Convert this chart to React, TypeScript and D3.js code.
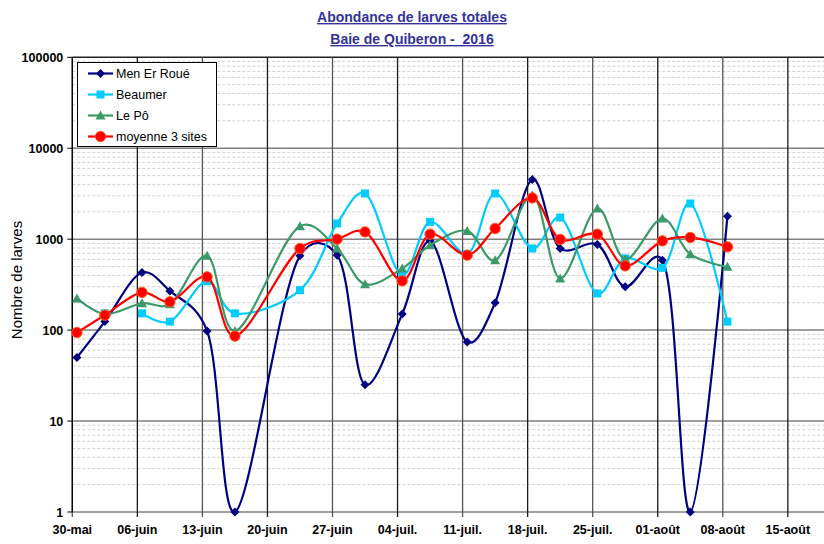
import React from "react";
import * as d3 from "d3";

const dates = ["2016-05-30","2016-06-02","2016-06-06","2016-06-09","2016-06-13","2016-06-16","2016-06-23","2016-06-27","2016-06-30","2016-07-04","2016-07-07","2016-07-11","2016-07-14","2016-07-18","2016-07-21","2016-07-25","2016-07-28","2016-08-01","2016-08-04","2016-08-08"];
const menErRoue = [50, 124, 430, 270, 98, 1, 656, 667, 25, 150, 958, 74, 200, 4530, 790, 875, 300, 588, 1, 1790];
const beaumer = [null, 153, 153, 124, 345, 153, 275, 1488, 3180, 402, 1549, 690, 3180, 790, 1731, 253, 614, 484, 2467, 124];
const lePo = [223, 150, 197, 193, 656, 98, 1389, 790, 320, 476, 859, 1234, 588, 3047, 370, 2175, 603, 1688, 684, 496];
const moyenne = [94, 146, 260, 205, 385, 86, 790, 1000, 1203, 348, 1135, 667, 1310, 2844, 993, 1135, 509, 958, 1045, 823];
// Beaumer: no line between these indices in the original
const beaumerBreakAfter = 1;

const xTickDates = ["2016-05-30","2016-06-06","2016-06-13","2016-06-20","2016-06-27","2016-07-04","2016-07-11","2016-07-18","2016-07-25","2016-08-01","2016-08-08","2016-08-15"];
const xTickLabels = ["30-mai","06-juin","13-juin","20-juin","27-juin","04-juil.","11-juil.","18-juil.","25-juil.","01-août","08-août","15-août"];
const yTicks = [1, 10, 100, 1000, 10000, 100000];
const seriesNames = ["Men Er Roué", "Beaumer", "Le Pô", "moyenne 3 sites"];
const titleLines = ["Abondance de larves totales", "Baie de Quiberon -  2016"];
const yTitle = "Nombre de larves";

const W = 824, H = 544;
const L = 72.3, T = 57.3, B = 512, R = 825;
const parse = (s: string) => new Date(s + "T00:00:00Z");

const x = d3.scaleUtc().domain([parse("2016-05-30"), parse("2016-08-19")]).range([L, R]);
const y = d3.scaleLog().domain([1, 100000]).range([B, T]);
const half = 12 * 3600 * 1000;
const px = (i: number) => x(new Date(parse(dates[i]).getTime() + half));

const colors = ["#000080", "#00CCFF", "#3C9A6A", "#FF0000"];
const FONT = "'Liberation Sans', Arial, sans-serif";

function marker(kind: number, cx: number, cy: number, key: string) {
  const c = colors[kind];
  if (kind === 0) {
    const s = 4.5;
    return <path key={key} d={`M${cx},${cy - s}L${cx + s},${cy}L${cx},${cy + s}L${cx - s},${cy}Z`} fill={c} />;
  }
  if (kind === 1) {
    return <rect key={key} x={cx - 4} y={cy - 4} width={8} height={8} fill={c} />;
  }
  if (kind === 2) {
    const s = 5;
    return <path key={key} d={`M${cx},${cy - s}L${cx + s},${cy + s * 0.8}L${cx - s},${cy + s * 0.8}Z`} fill={c} />;
  }
  return <circle key={key} cx={cx} cy={cy} r={5.2} fill={c} stroke="#FF5a1e" strokeWidth={1} />;
}

export default function App() {
  const series = [menErRoue, beaumer, lePo, moyenne];
  const line = d3
    .line<[number, number]>()
    .x((d) => d[0])
    .y((d) => d[1])
    .curve(d3.curveCatmullRom.alpha(0.25));

  const segments = (vals: (number | null)[], breakAfter: number | null) => {
    const segs: [number, number][][] = [];
    let cur: [number, number][] = [];
    vals.forEach((v, i) => {
      if (v == null || v <= 0) {
        if (cur.length) segs.push(cur);
        cur = [];
        return;
      }
      cur.push([px(i), y(v)]);
      if (breakAfter === i) {
        segs.push(cur);
        cur = [];
      }
    });
    if (cur.length) segs.push(cur);
    return segs;
  };

  const minor: number[] = [];
  for (let e = 0; e < 5; e++) for (let k = 2; k <= 9; k++) minor.push(k * Math.pow(10, e));

  return (
    <svg width={W} height={H} style={{ position: "absolute", left: 0, top: 0, background: "#fff" }}>
      <defs>
        <clipPath id="plot">
          <rect x={L} y={T} width={R - L} height={B - T} />
        </clipPath>
      </defs>
      <rect x={0} y={0} width={W} height={H} fill="#fff" />
      {/* title */}
      {titleLines.map((t, i) => (
        <text key={t} x={412} y={22 + i * 22} textAnchor="middle" fontFamily={FONT} fontWeight="bold" fontSize={14} fill="#333399" textDecoration="underline" style={{ whiteSpace: "pre" }}>
          {t}
        </text>
      ))}
      {/* minor gridlines */}
      {minor.map((v) => (
        <line key={"m" + v} x1={L} x2={R} y1={y(v)} y2={y(v)} stroke="#d0d0d0" strokeWidth={1} strokeDasharray="3,2" />
      ))}
      {/* major horizontal gridlines */}
      {yTicks.map((v) => (
        <line key={"h" + v} x1={L} x2={R} y1={y(v)} y2={y(v)} stroke={v === 100000 ? "#222" : "#808080"} strokeWidth={1.5} />
      ))}
      {/* vertical gridlines */}
      {xTickDates.map((d, i) => (
        <line key={"v" + d} x1={x(parse(d))} x2={x(parse(d))} y1={T} y2={B + 5} stroke={i % 2 ? "#1a1a1a" : "#555"} strokeWidth={1.3} />
      ))}
      {/* y axis */}
      <line x1={L} x2={L} y1={T} y2={B} stroke="#000" strokeWidth={1.3} />
      {yTicks.map((v) => (
        <g key={"yt" + v}>
          <line x1={L - 5} x2={L} y1={y(v)} y2={y(v)} stroke="#000" />
          <text x={L - 9} y={y(v) + 4.5} textAnchor="end" fontFamily={FONT} fontWeight="bold" fontSize={12.5} fill="#000">
            {v}
          </text>
        </g>
      ))}
      {xTickDates.map((d, i) => (
        <text key={"xt" + d} x={x(parse(d))} y={534} textAnchor="middle" fontFamily={FONT} fontWeight="bold" fontSize={12.5} fill="#000">
          {xTickLabels[i]}
        </text>
      ))}
      <text transform={`translate(22,280) rotate(-90)`} textAnchor="middle" fontFamily={FONT} fontSize={15} fill="#000">
        {yTitle}
      </text>
      {/* series */}
      {series.map((vals, si) => (
        <g key={"s" + si}>
          <g clipPath="url(#plot)">
            {segments(vals, si === 1 ? beaumerBreakAfter : null)
              .filter((s) => s.length > 1)
              .map((s, k) => (
                <path key={k} d={line(s) || ""} fill="none" stroke={colors[si]} strokeWidth={2.2} />
              ))}
          </g>
          {vals.map((v, i) => (v != null && v > 0 ? marker(si, px(i), y(v), `mk${si}-${i}`) : null))}
        </g>
      ))}
      {/* legend */}
      <rect x={77.5} y={62.5} width={139} height={84} fill="#fff" stroke="#000" strokeWidth={1} />
      {seriesNames.map((n, i) => {
        const ly = 73.5 + i * 21;
        return (
          <g key={n}>
            <line x1={88} x2={113} y1={ly} y2={ly} stroke={colors[i]} strokeWidth={2.2} />
            {marker(i, 100.5, ly, "lg" + i)}
            <text x={116} y={ly + 4.5} fontFamily={FONT} fontSize={12.5} fill="#000">
              {n}
            </text>
          </g>
        );
      })}
    </svg>
  );
}
